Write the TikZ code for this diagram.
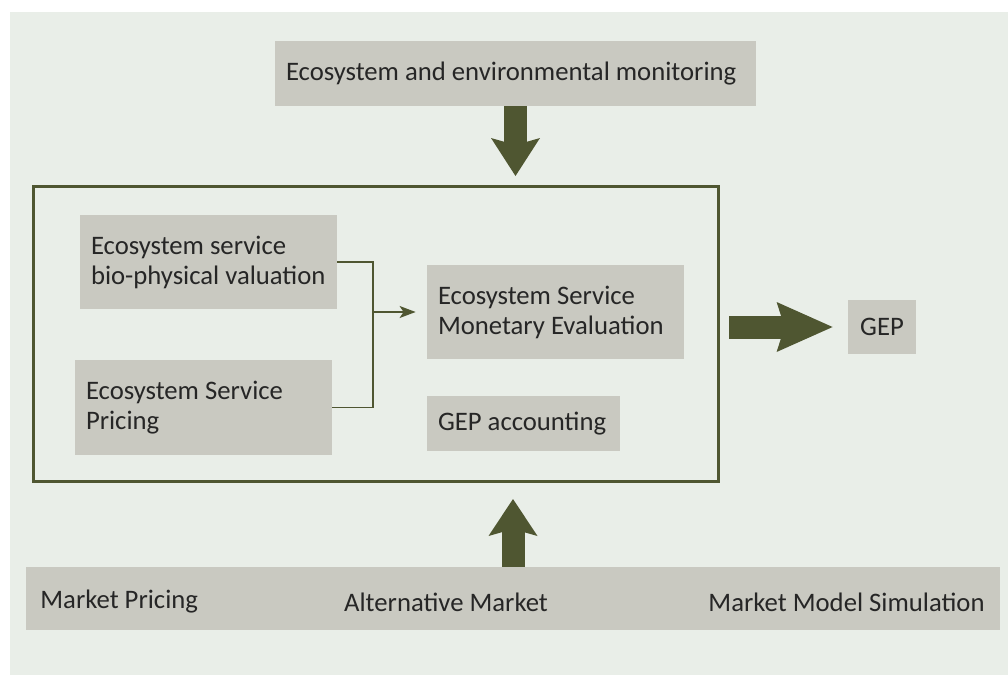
\documentclass[tikz,border=0pt]{standalone}
\usepackage{fontspec}
\setmainfont{Carlito}
\usetikzlibrary{arrows.meta}
\definecolor{fondo}{HTML}{E9EEE8}
\definecolor{caja}{HTML}{C9C9C1}
\definecolor{oliva}{HTML}{4F5631}
\definecolor{texto}{HTML}{262626}
\begin{document}
\begin{tikzpicture}[x=0.5pt, y=-0.5pt,
    caja/.style={fill=caja, text=texto, inner xsep=5.5pt, inner ysep=0pt, align=flush left, font=\fontsize{13.35}{15}\selectfont},
    etiq/.style={text=texto, inner sep=0pt, font=\fontsize{13.35}{15}\selectfont},
    marco/.style={draw=oliva, line width=1.5pt},
    enlace/.style={draw=oliva, line width=0.75pt},
    bloque/.style={draw=oliva, line width=11.5pt}]
    % Fondo
    \useasboundingbox (0,0) rectangle (1008,675);
    \fill[fondo] (10,12) rectangle (1008,675);

    % Monitoreo
    \node[caja, text width=229.5pt, minimum height=32.5pt] (monitoreo) at (515.5,73.5) {Ecosystem and environmental monitoring};

    % Marco central
    \node[marco, minimum width=342.5pt, minimum height=147.5pt] (cuadro) at (376,334) {};
    \node[caja, text width=117.5pt, minimum height=47pt] (biofis) at (208.5,262) {Ecosystem service\\bio-physical valuation};
    \node[caja, text width=117.5pt, minimum height=47.5pt] (precio) at (203.5,407.5) {Ecosystem Service\\Pricing};
    \node[caja, text width=117.5pt, minimum height=47pt] (monet) at (555.5,312) {Ecosystem Service\\Monetary Evaluation};
    \node[caja, text width=85.5pt, minimum height=27.5pt] (contab) at (523.5,423.5) {GEP accounting};
    \coordinate (union) at (373,312);
    \draw[enlace] (biofis.east) -| (union) |- (precio.east);
    \draw[enlace, shorten >=5.5pt, -{Stealth[length=8pt, width=6pt, inset=2pt]}] (union) -- (monet.west);

    % GEP
    \node[caja, align=center, minimum width=34pt, minimum height=27pt] (gep) at (882,327) {GEP};

    % Mercado
    \node[caja, minimum width=487pt, minimum height=31.5pt] (mercado) at (513,598.5) {};
    \node[etiq, anchor=west] (mprecio) at (40,602) {Market Pricing};
    \node[etiq] (malt) at (446,602) {Alternative Market};
    \node[etiq, anchor=east] (mmodelo) at (985,602) {Market Model Simulation};

    % Flechas gruesas
    \draw[bloque, shorten >=4.5pt, -{Stealth[length=19pt, width=24.5pt, inset=3.5pt, line width=0pt]}] (monitoreo.south) -- (monitoreo.south |- cuadro.north);
    \draw[bloque, shorten >=8pt, -{Stealth[length=18.5pt, width=24.5pt, inset=3.5pt, line width=0pt]}] (mercado.north) -- (mercado.north |- cuadro.south);
    \draw[bloque, shorten <=4.5pt, shorten >=7.5pt, -{Stealth[length=28pt, width=25pt, inset=4pt, line width=0pt]}] (gep.west -| cuadro.east) -- (gep.west);
\end{tikzpicture}
\end{document}
